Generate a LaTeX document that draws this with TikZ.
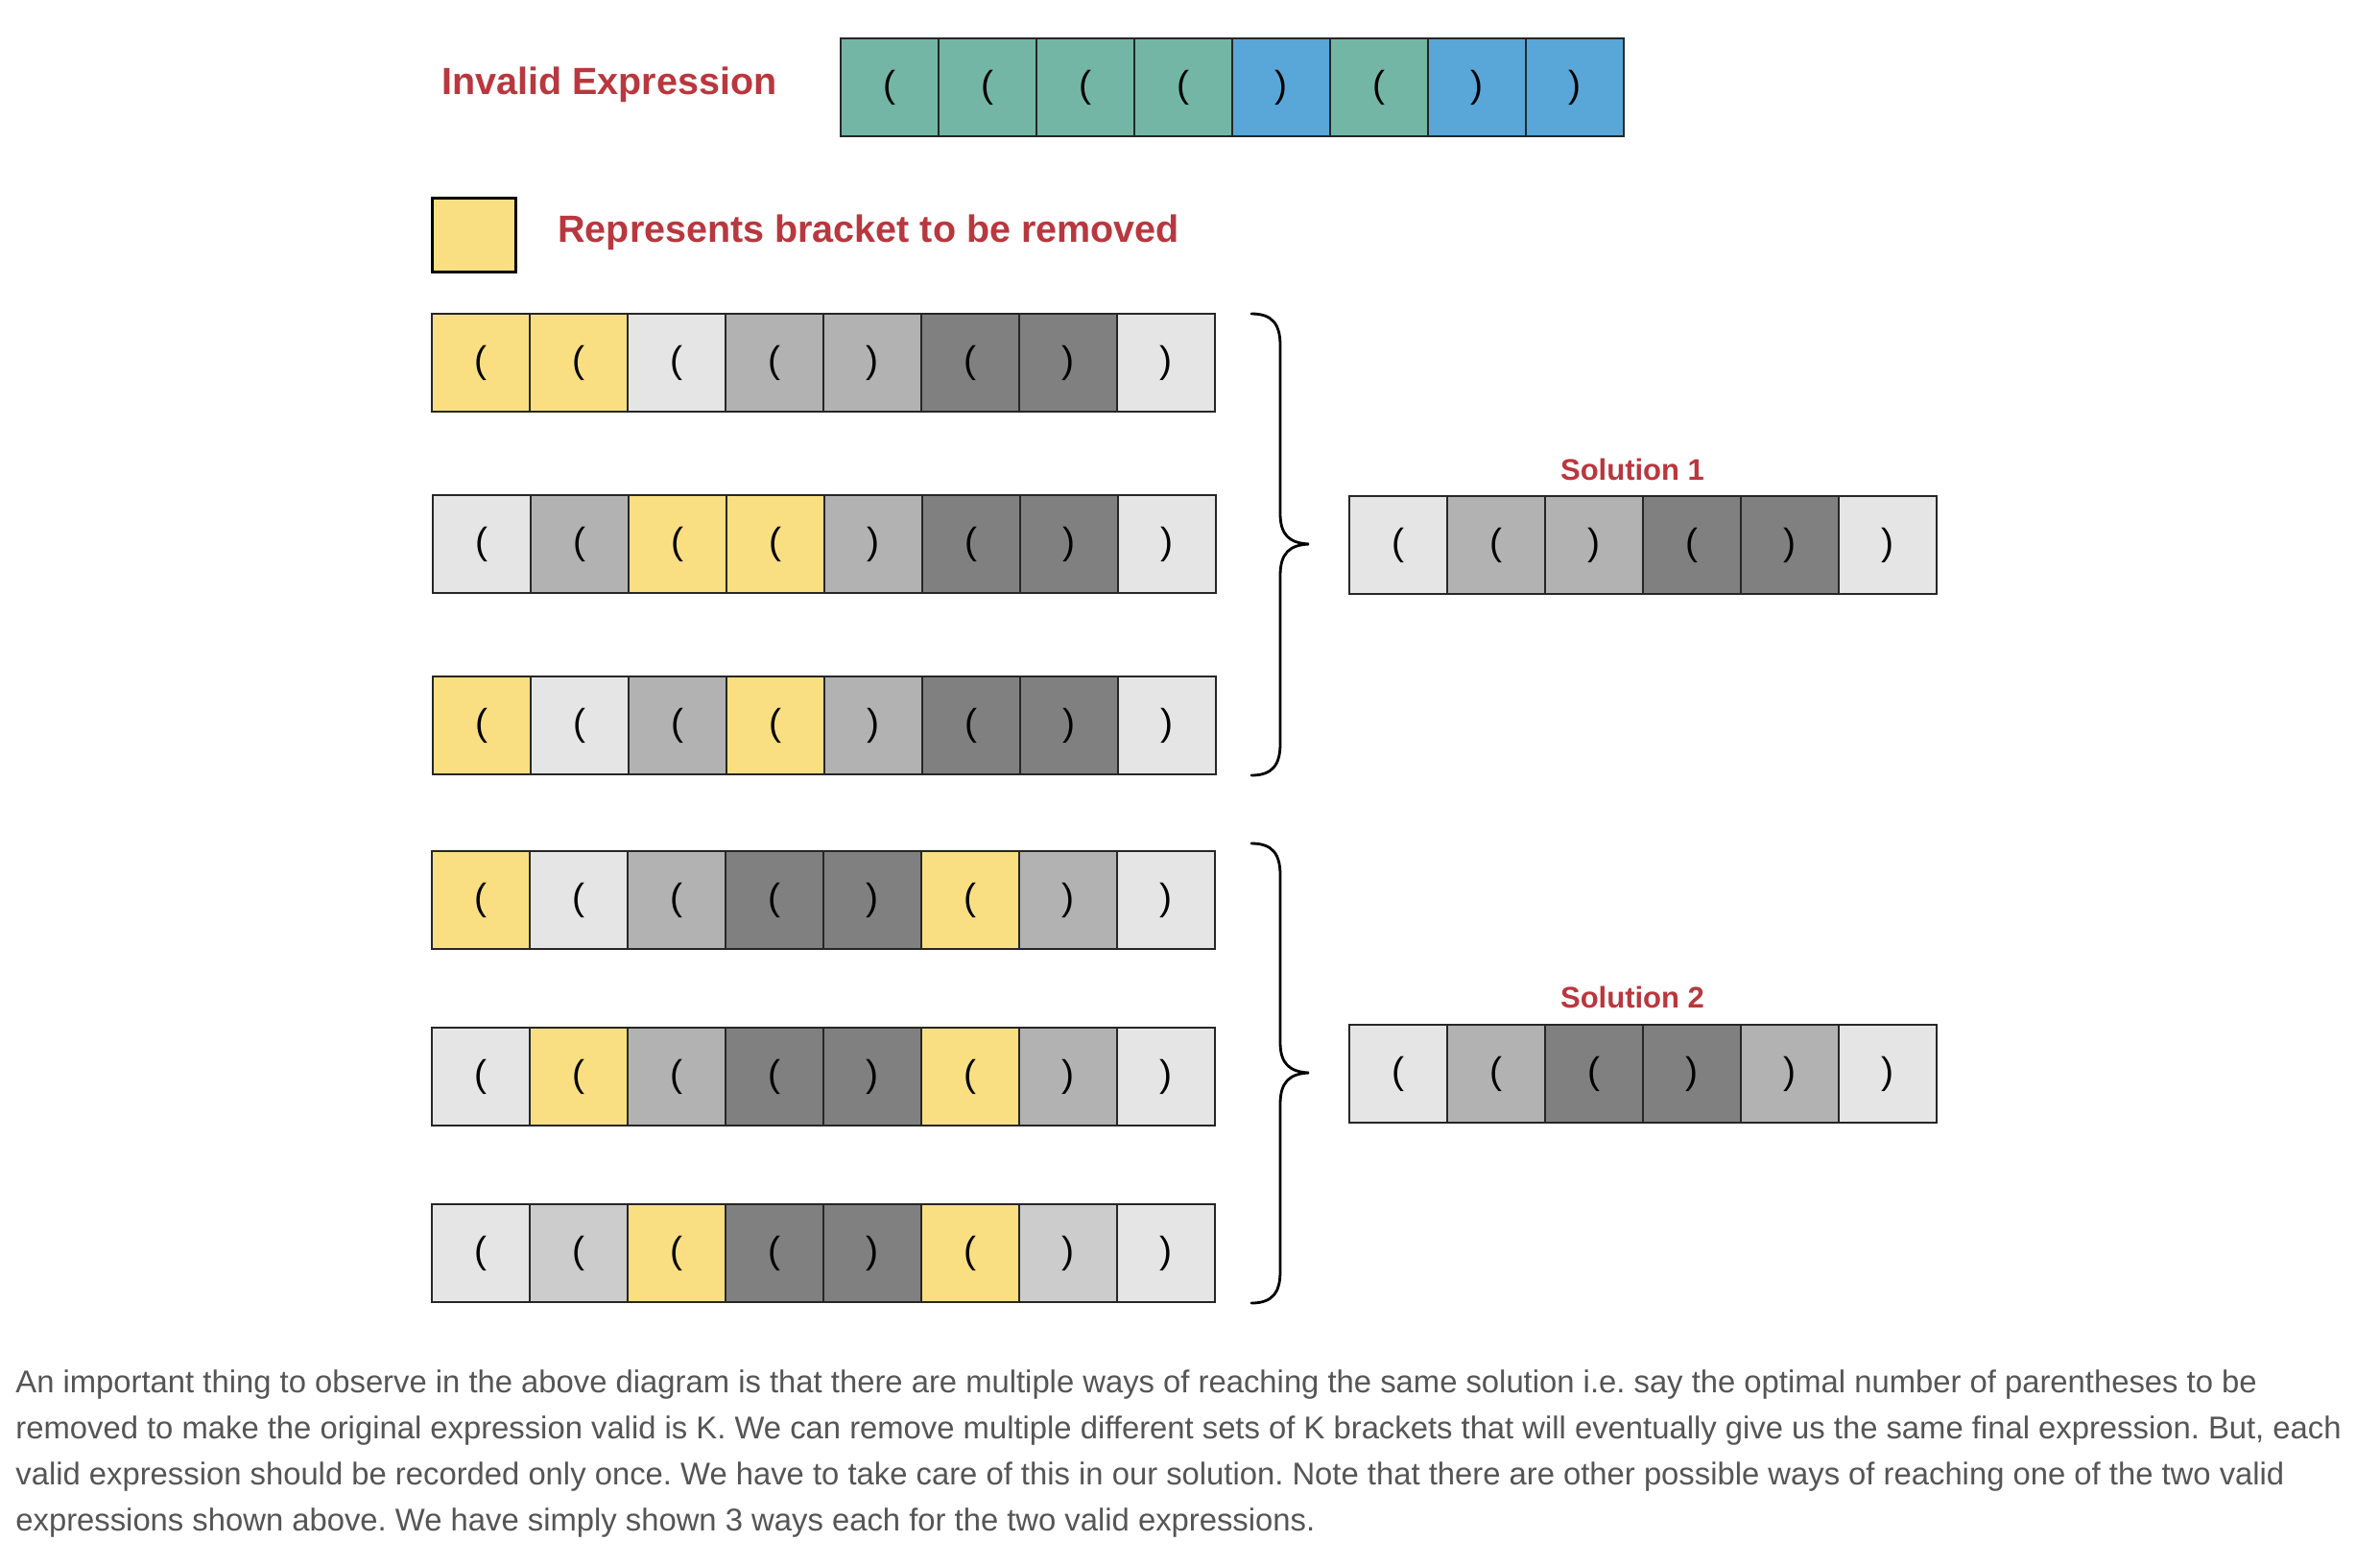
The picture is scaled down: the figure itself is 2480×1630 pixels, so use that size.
\documentclass[tikz,border=0pt]{standalone}
\usepackage{fontspec}
\setmainfont{Liberation Sans}
\frenchspacing
\definecolor{cT}{RGB}{115,182,166}
\definecolor{cB}{RGB}{88,167,216}
\definecolor{cY}{RGB}{249,223,130}
\definecolor{cL}{RGB}{229,229,229}
\definecolor{cM}{RGB}{178,178,178}
\definecolor{cD}{RGB}{128,128,128}
\definecolor{cC}{RGB}{204,204,204}
\definecolor{cRed}{RGB}{185,55,62}
\definecolor{cTxt}{RGB}{85,85,85}
\newcommand{\cellrow}[4]{%
  \foreach \cl/\br [count=\i] in {#4} {
    \node[cell, fill=\cl] (#1-\i) at ({#2+(\i-0.5)*102},{#3+51}) {\if\br o(\else)\fi};
  }%
}
\begin{document}
\begin{tikzpicture}[x=0.5pt,y=-0.5pt,
  cell/.style={draw=black!85, line width=0.55pt, minimum width=51pt, minimum height=51pt,
    inner sep=0pt, outer sep=0pt, font=\fontsize{19.5}{19.5}\selectfont},
  lbl/.style={text=cRed, font=\bfseries\fontsize{19.75}{20}\selectfont, inner sep=0pt, anchor=base west},
  sol/.style={text=cRed, font=\bfseries\fontsize{15.5}{16}\selectfont, inner sep=0pt, anchor=base},
  para/.style={text=cTxt, font=\fontsize{16.4}{17}\selectfont, inner sep=0pt, anchor=base west},
  brace/.style={draw=black, line width=1.4pt, line cap=round}]
\useasboundingbox[fill=white] (0,0) rectangle (2480,1630);

\node[lbl] (invalid) at (460,98) {Invalid Expression};
\cellrow{top}{876}{40}{cT/o,cT/o,cT/o,cT/o,cB/c,cT/o,cB/c,cB/c}

\node[draw=black, fill=cY, line width=1.5pt, minimum width=43.5pt, minimum height=38.5pt,
  inner sep=0pt] (legend) at (493.5,244.5) {};
\node[lbl] (legendtxt) at (581,252) {Represents bracket to be removed};

\cellrow{ra}{450}{327}{cY/o,cY/o,cL/o,cM/o,cM/c,cD/o,cD/c,cL/c}
\cellrow{rb}{451}{516}{cL/o,cM/o,cY/o,cY/o,cM/c,cD/o,cD/c,cL/c}
\cellrow{rc}{451}{705}{cY/o,cL/o,cM/o,cY/o,cM/c,cD/o,cD/c,cL/c}
\cellrow{rd}{450}{887}{cY/o,cL/o,cM/o,cD/o,cD/c,cY/o,cM/c,cL/c}
\cellrow{re}{450}{1071}{cL/o,cY/o,cM/o,cD/o,cD/c,cY/o,cM/c,cL/c}
\cellrow{rf}{450}{1255}{cL/o,cC/o,cY/o,cD/o,cD/c,cY/o,cC/c,cL/c}

\node[sol] (sol1lbl) at (1701,500) {Solution 1};
\cellrow{sa}{1406}{517}{cL/o,cM/o,cM/c,cD/o,cD/c,cL/c}
\node[sol] (sol2lbl) at (1701,1050) {Solution 2};
\cellrow{sb}{1406}{1068}{cL/o,cM/o,cD/o,cD/c,cM/c,cL/c}

% braces
\coordinate (b1top) at (1304,327);
\coordinate (b1tip) at (1364,567);
\coordinate (b1bot) at (1304,808);
\draw[brace] (b1top) .. controls (1326,327) and (1334,338) .. (1334,360) -- (1334,535)
  .. controls (1334,558) and (1344,566) .. (b1tip)
  .. controls (1344,568) and (1334,576) .. (1334,600) -- (1334,775)
  .. controls (1334,797) and (1326,808) .. (b1bot);
\coordinate (b2top) at (1304,879);
\coordinate (b2tip) at (1364,1118);
\coordinate (b2bot) at (1304,1358);
\draw[brace] (b2top) .. controls (1326,879) and (1334,890) .. (1334,912) -- (1334,1086)
  .. controls (1334,1109) and (1344,1117) .. (b2tip)
  .. controls (1344,1119) and (1334,1127) .. (1334,1151) -- (1334,1325)
  .. controls (1334,1347) and (1326,1358) .. (b2bot);

\node[para] (p1) at (16,1451) {An important thing to observe in the above diagram is that there are multiple ways of reaching the same solution i.e. say the optimal number of parentheses to be};
\node[para] (p2) at (16,1499) {removed to make the original expression valid is K. We can remove multiple different sets of K brackets that will eventually give us the same final expression. But, each};
\node[para] (p3) at (16,1547) {valid expression should be recorded only once. We have to take care of this in our solution. Note that there are other possible ways of reaching one of the two valid};
\node[para] (p4) at (16,1595) {expressions shown above. We have simply shown 3 ways each for the two valid expressions.};
\end{tikzpicture}
\end{document}
